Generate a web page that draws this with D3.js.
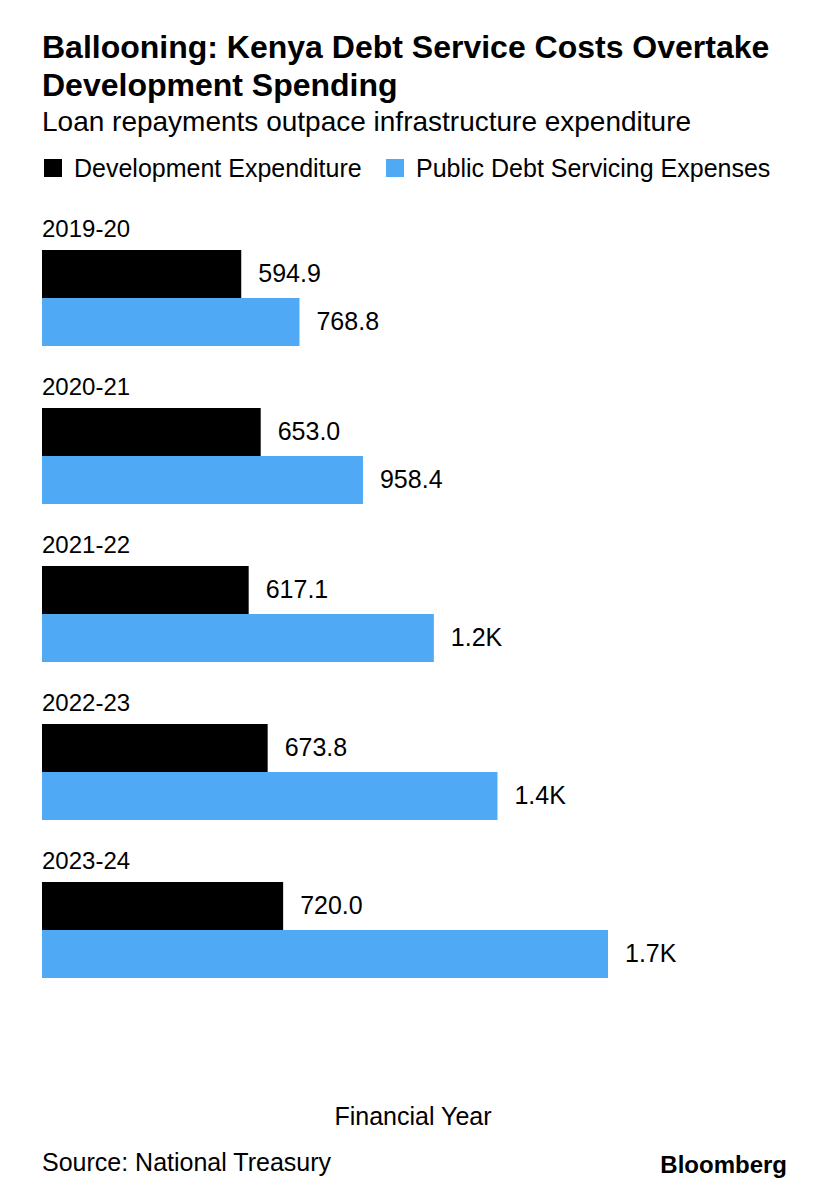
<!DOCTYPE html>
<html>
<head>
<meta charset="utf-8">
<title>Kenya debt service</title>
<style>
  body { margin: 0; background: #fff; }
  text { font-family: "Liberation Sans", Arial, sans-serif; fill: #000; }
</style>
</head>
<body>
<script src="https://cdn.jsdelivr.net/npm/d3@7"></script>
<script>
var years = ["2019-20", "2020-21", "2021-22", "2022-23", "2023-24"]
var devExpenditure = [594.9, 653.0, 617.1, 673.8, 720.0]
var debtServicing = [768.8, 958.4, 1170, 1360, 1690]
var seriesNames = ["Development Expenditure", "Public Debt Servicing Expenses"]
var seriesColors = ["#000000", "#4fa9f5"]

var width = 826
var height = 1200
var left = 42

var svg = d3.select("body").append("svg")
    .attr("width", width)
    .attr("height", height)

// titles
svg.append("text").attr("x", left).attr("y", 58)
    .attr("font-size", 32).attr("font-weight", "bold")
    .text("Ballooning: Kenya Debt Service Costs Overtake")
svg.append("text").attr("x", left).attr("y", 96)
    .attr("font-size", 32).attr("font-weight", "bold")
    .text("Development Spending")
svg.append("text").attr("x", left).attr("y", 131)
    .attr("font-size", 28)
    .text("Loan repayments outpace infrastructure expenditure")

// legend
var legendX = [44, 386]
var legend = svg.selectAll(".legend")
    .data(seriesNames)
    .enter().append("g")
    .attr("transform", function(d, i) { return "translate(" + legendX[i] + ",0)" })
legend.append("rect")
    .attr("y", 159).attr("width", 18).attr("height", 18)
    .attr("fill", function(d, i) { return seriesColors[i] })
legend.append("text")
    .attr("x", 30).attr("y", 177).attr("font-size", 25)
    .text(function(d) { return d })

// scales
var x = d3.scaleLinear().domain([0, 1690]).range([0, 566])
var y = d3.scaleBand().domain(years).range([250, 1040]).paddingInner(0).paddingOuter(0)
var barH = 48

var rows = years.map(function(yr, i) {
    return { year: yr, values: [devExpenditure[i], debtServicing[i]] }
})

var fmt = function(v) {
    return v >= 1000 ? d3.format(".1f")(v / 1000) + "K" : d3.format(".1f")(v)
}

var group = svg.selectAll(".year")
    .data(rows)
    .enter().append("g")
    .attr("transform", function(d) { return "translate(" + left + "," + y(d.year) + ")" })

group.append("text")
    .attr("x", 0).attr("y", -13).attr("font-size", 24)
    .text(function(d) { return d.year })

group.selectAll("rect")
    .data(function(d) { return d.values })
    .enter().append("rect")
    .attr("x", 0)
    .attr("y", function(d, i) { return i * barH })
    .attr("width", function(d) { return x(d) })
    .attr("height", barH)
    .attr("fill", function(d, i) { return seriesColors[i] })

group.selectAll(".val")
    .data(function(d) { return d.values })
    .enter().append("text")
    .attr("class", "val")
    .attr("x", function(d) { return x(d) + 17 })
    .attr("y", function(d, i) { return i * barH + barH / 2 + 8 })
    .attr("font-size", 25)
    .text(fmt)

// footer
svg.append("text").attr("x", 413).attr("y", 1125)
    .attr("font-size", 25).attr("text-anchor", "middle")
    .text("Financial Year")
svg.append("text").attr("x", left).attr("y", 1171)
    .attr("font-size", 25)
    .text("Source: National Treasury")
svg.append("text").attr("x", 787).attr("y", 1173)
    .attr("font-size", 24).attr("font-weight", "bold").attr("text-anchor", "end")
    .text("Bloomberg")
</script>
</body>
</html>
